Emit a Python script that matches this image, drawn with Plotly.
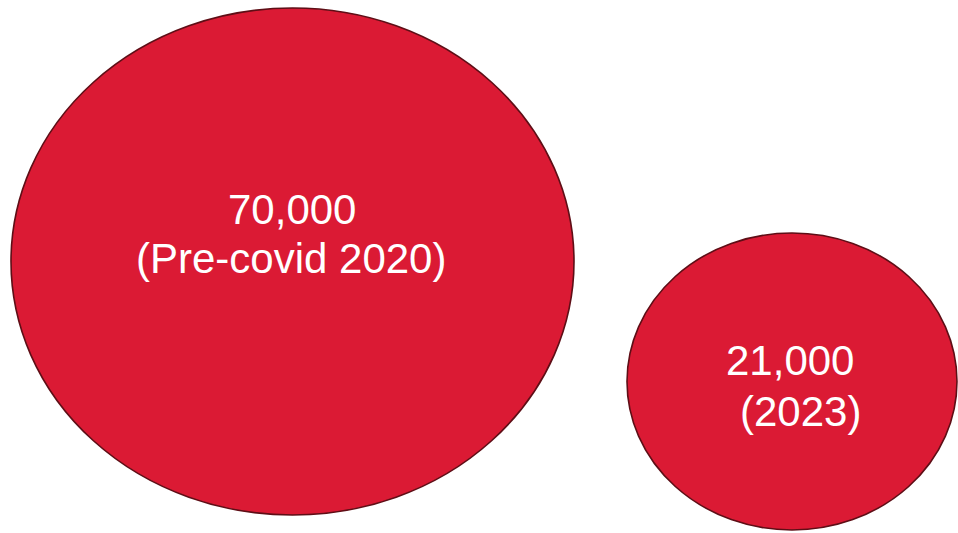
import plotly.graph_objects as go

# Data
periods = ["Pre-covid 2020", "2023"]
values = [70000, 21000]

# Layout geometry (page pixels, 958x533 window)
centers_x = [292.5, 792]
centers_y = [261.5, 381.5]
radii_x = [281.5, 165]
radii_y = [253.5, 148.5]
# text line centres: (x, y) for value line and period line
value_xy = [(292.3, 209), (790, 360.5)]
period_xy = [(291, 258), (800, 411)]

FILL = "#DB1A34"
EDGE = "#5E0E16"
FONT = dict(family="Liberation Sans, Arial, sans-serif", size=42, color="white")

fig = go.Figure()
shapes = []
annotations = []
for i, (p, v) in enumerate(zip(periods, values)):
    shapes.append(dict(
        type="circle", xref="x", yref="y",
        x0=centers_x[i] - radii_x[i], x1=centers_x[i] + radii_x[i],
        y0=centers_y[i] - radii_y[i], y1=centers_y[i] + radii_y[i],
        fillcolor=FILL, line=dict(color=EDGE, width=1.6), layer="below",
    ))
    annotations.append(dict(
        x=value_xy[i][0], y=value_xy[i][1], xref="x", yref="y",
        text=f"{v:,}", showarrow=False, font=FONT,
        xanchor="center", yanchor="middle",
    ))
    annotations.append(dict(
        x=period_xy[i][0], y=period_xy[i][1], xref="x", yref="y",
        text=f"({p})", showarrow=False, font=FONT,
        xanchor="center", yanchor="middle",
    ))

fig.add_trace(go.Scatter(x=[0, 958], y=[0, 533], mode="markers",
                         marker=dict(opacity=0), hoverinfo="skip", showlegend=False))

fig.update_layout(
    width=958, height=533,
    margin=dict(l=0, r=0, t=0, b=0),
    paper_bgcolor="white", plot_bgcolor="white",
    xaxis=dict(range=[0, 958], visible=False, fixedrange=True),
    yaxis=dict(range=[533, 0], visible=False, fixedrange=True),
    shapes=shapes, annotations=annotations, showlegend=False,
)

fig.write_html(
    "out.html",
    config={"displayModeBar": False},
    post_script="document.body.style.margin='0';document.body.style.overflow='hidden';",
)
